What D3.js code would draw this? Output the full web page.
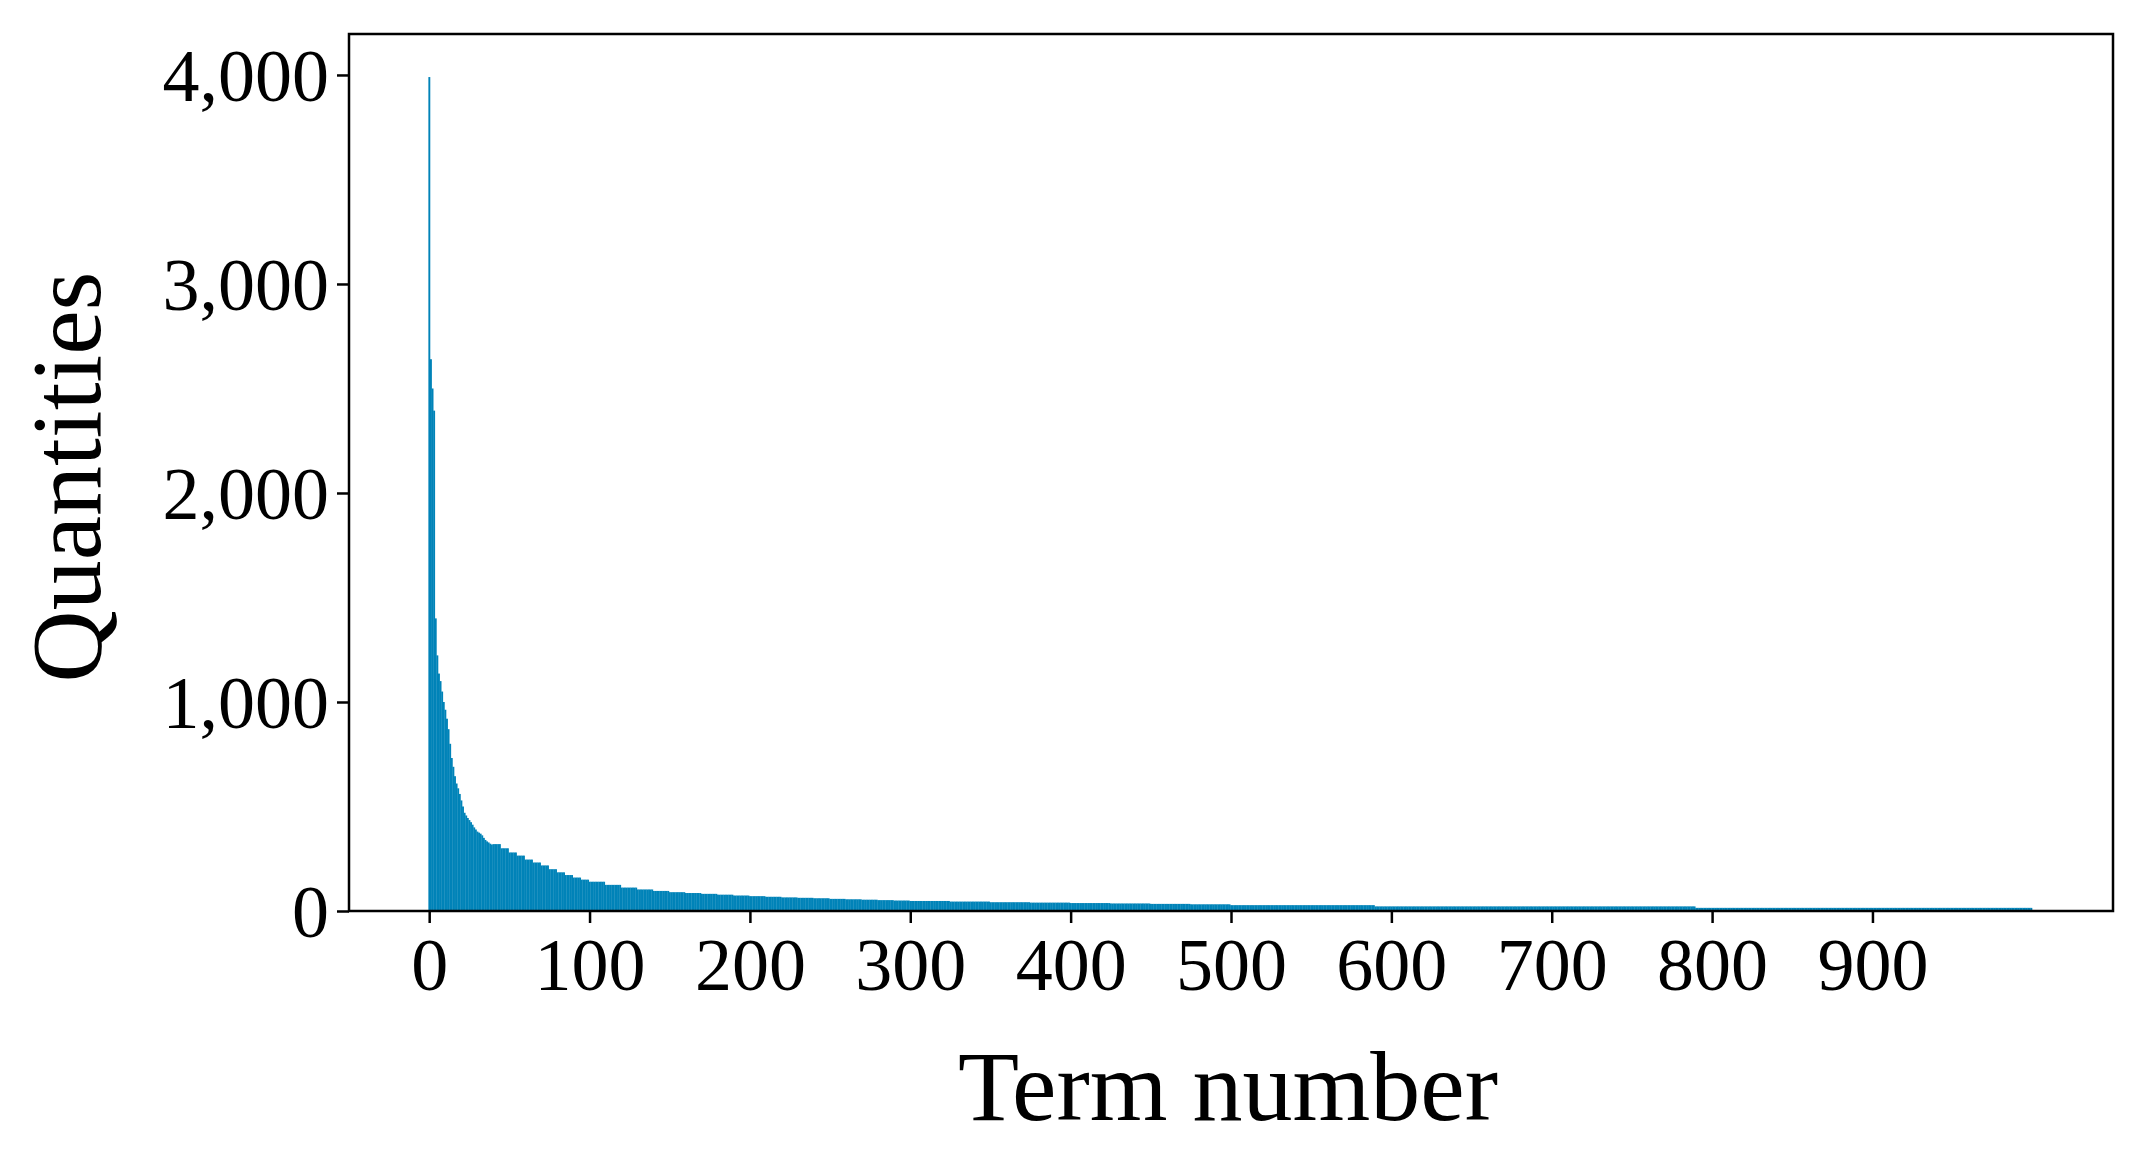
<!DOCTYPE html>
<html>
<head>
<meta charset="utf-8">
<script src="https://cdn.jsdelivr.net/npm/d3@7"></script>
<style>
  body { margin: 0; background: #fff; }
  text { font-family: "Liberation Serif", "Times New Roman", serif; fill: #000; }
</style>
</head>
<body>
<svg id="chart" width="2135" height="1150"></svg>
<script>
// first 40 terms read one by one
const headValues = [3990, 2640, 2500, 2394, 1400, 1223, 1136, 1100, 1050, 1000,
  963, 920, 870, 800, 732, 690, 645, 610, 587, 560,
  529, 500, 470, 457, 445, 435, 425, 413, 400, 390,
  380, 375, 370, 362, 350, 340, 333, 328, 322, 318];
// then plateaus: value and how many terms it spans
const runValues = [320, 300, 280, 265, 246, 232, 218, 200, 185, 172, 160, 150,
  140, 125, 112, 103, 96,
  90, 86, 82, 78, 74, 71, 68, 65, 63, 61,
  58, 56, 54, 52, 50,
  48, 45, 42, 40,
  38, 36, 34, 32,
  28, 22, 15];
const runCounts = [5, 5, 5, 5, 5, 5, 5, 5, 5, 5, 5, 5,
  10, 10, 10, 10, 10,
  10, 10, 10, 10, 10, 10, 10, 10, 10, 10,
  10, 10, 10, 10, 10,
  25, 25, 25, 25,
  25, 25, 25, 25,
  90, 200, 210];
const xTicks = [0, 100, 200, 300, 400, 500, 600, 700, 800, 900];
const yTicks = [0, 1000, 2000, 3000, 4000];

const quantities = headValues.slice();
runValues.forEach((v, i) => {
  for (let k = 0; k < runCounts[i]; k++) quantities.push(v);
});

const plotLeft = 349, plotRight = 2113, plotTop = 34, plotBottom = 911;
const svg = d3.select("#chart");

const x = d3.scaleLinear().domain([-50, 1050]).range([plotLeft, plotRight]);
const y = d3.scaleLinear().domain([0, 4196]).range([plotBottom, plotTop]);
const bw = x(1) - x(0);

svg.append("g")
  .selectAll("rect")
  .data(quantities)
  .enter().append("rect")
  .attr("x", (d, i) => x(i) - bw / 2)
  .attr("width", bw + 0.3)
  .attr("y", d => y(d))
  .attr("height", d => y(0) - y(d))
  .attr("fill", "#0083b8");

const xAxis = svg.append("g")
  .attr("transform", `translate(0,${plotBottom})`)
  .call(d3.axisBottom(x).tickValues(xTicks).tickSize(12).tickPadding(14));
const yAxis = svg.append("g")
  .attr("transform", `translate(${plotLeft},0)`)
  .call(d3.axisLeft(y).tickValues(yTicks).tickSize(12).tickPadding(8));

[xAxis, yAxis].forEach(g => {
  g.select(".domain").remove();
  g.selectAll(".tick line").attr("stroke", "#000").attr("stroke-width", 2.5);
  g.selectAll(".tick text")
    .style("font-family", "'Liberation Serif', serif")
    .style("font-size", "74px")
    .attr("fill", "#000");
});
yAxis.selectAll(".tick text").attr("dy", "0.34em");

svg.append("rect")
  .attr("x", plotLeft).attr("y", plotTop)
  .attr("width", plotRight - plotLeft).attr("height", plotBottom - plotTop)
  .attr("fill", "none").attr("stroke", "#000").attr("stroke-width", 2.5);

svg.append("text")
  .attr("x", (plotLeft + plotRight) / 2 - 3).attr("y", 1120)
  .attr("text-anchor", "middle")
  .style("font-size", "100px")
  .text("Term number");

svg.append("text")
  .attr("transform", "translate(100,477) rotate(-90)")
  .attr("text-anchor", "middle")
  .style("font-size", "100px")
  .text("Quantities");
</script>
</body>
</html>
